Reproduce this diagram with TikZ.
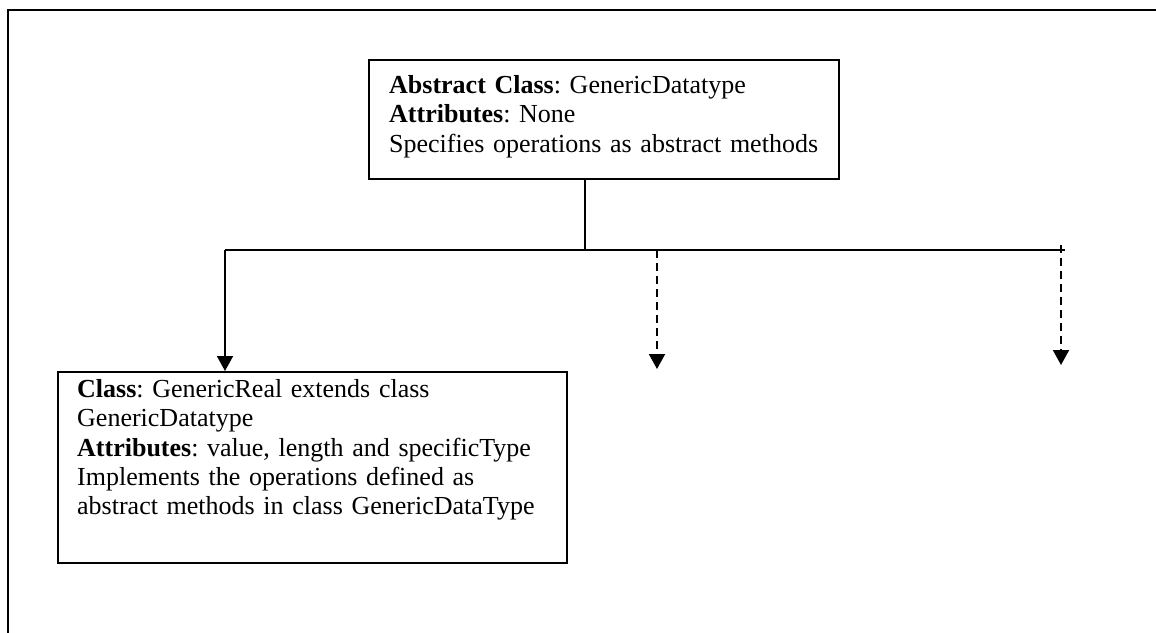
\documentclass[tikz,border=0pt]{standalone}
\usepackage{fontspec}
\setmainfont{Liberation Serif}
\usetikzlibrary{arrows.meta}
\frenchspacing
\hyphenpenalty=10000
\begin{document}
\begin{tikzpicture}[x=1pt,y=-1pt,
  frameline/.style={line width=2pt},
  classbox/.style={draw, line width=1.7pt, inner sep=0pt, anchor=north west},
  classtext/.style={inner sep=0pt, anchor=north west, align=left,
    font=\fontsize{26}{29.4}\selectfont},
  link/.style={line width=1.7pt},
  solidarrow/.style={link, -{Triangle[length=15pt,width=16pt]}},
  dasharrow/.style={line width=2pt, dash pattern=on 8pt off 5pt,
    -{Triangle[length=15pt,width=16pt]}}]
  \useasboundingbox (0,0) rectangle (1156,632);
  \fill[white] (0,0) rectangle (1156,632);

  % outer frame (only its top and left sides fall on the page)
  \coordinate (frameTR) at (1160,10);
  \coordinate (frameTL) at (8,10);
  \coordinate (frameBL) at (8,640);
  \draw[frameline] (frameTR) -- (frameTL) -- (frameBL);

  % abstract base class
  \node[classbox, minimum width=470pt, minimum height=119pt] (base) at (368,59) {};
  \node[classtext, text width=440pt] (baseText) at (389,75) {%
    \textbf{Abstract Class}: GenericDatatype\\
    \textbf{Attributes}: None\\
    Specifies operations as abstract methods};

  % concrete subclass
  \node[classbox, minimum width=509pt, minimum height=191pt] (real) at (57,371) {};
  \node[classtext, text width=470pt] (realText) at (77,379) {%
    \textbf{Class}: GenericReal extends class\\
    GenericDatatype\\
    \textbf{Attributes}: value, length and specificType\\
    Implements the operations defined as\\
    abstract methods in class GenericDataType};

  % inheritance bus
  \coordinate (busMid) at (585,250);
  \coordinate (busL) at (225,250);
  \coordinate (busR) at (1065,250);
  \coordinate (tapB) at (657,250);
  \coordinate (tapC) at (1061,245);
  \coordinate (tipB) at (657,369);
  \coordinate (tipC) at (1061,365);

  \draw[link] (base.south -| busMid) -- (busMid);
  \draw[link] (busL) -- (busR);
  \draw[solidarrow] (busL) -- (busL |- real.north);
  \draw[dasharrow] (tapB) -- (tipB);
  \draw[dasharrow] (tapC) -- (tipC);
\end{tikzpicture}
\end{document}
